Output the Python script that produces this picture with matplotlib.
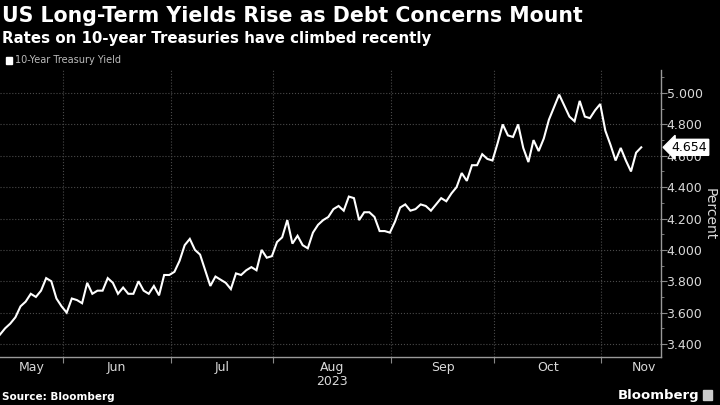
import numpy as np
import pandas as pd
import matplotlib
matplotlib.use("Agg")
import matplotlib.pyplot as plt
import matplotlib.transforms as mtransforms
from matplotlib.ticker import MultipleLocator, FixedLocator, NullFormatter, FixedFormatter
from matplotlib.patches import Rectangle

# 10-year treasury yield, trading days 12 May - 10 Nov 2023
holidays = ['2023-05-29', '2023-06-19', '2023-07-04', '2023-09-04', '2023-10-09']
may = [3.46, 3.50, 3.53, 3.57, 3.64, 3.67, 3.72, 3.70, 3.74, 3.82, 3.80, 3.69, 3.64]
jun = [3.60, 3.69, 3.68, 3.66, 3.79, 3.72, 3.74, 3.74, 3.82, 3.79, 3.72, 3.76, 3.72,
       3.72, 3.80, 3.74, 3.72, 3.77, 3.71, 3.84, 3.84]
jul = [3.86, 3.93, 4.03, 4.07, 4.00, 3.97, 3.87, 3.77, 3.83, 3.81, 3.79, 3.75, 3.85,
       3.84, 3.87, 3.89, 3.87, 4.00, 3.95, 3.96]
aug = [4.05, 4.08, 4.19, 4.04, 4.09, 4.03, 4.01, 4.11, 4.16, 4.19, 4.21, 4.26, 4.28,
       4.25, 4.34, 4.33, 4.19, 4.24, 4.24, 4.21, 4.12, 4.12, 4.11]
sep = [4.18, 4.27, 4.29, 4.25, 4.26, 4.29, 4.28, 4.25, 4.29, 4.33, 4.31, 4.36, 4.40,
       4.49, 4.44, 4.54, 4.54, 4.61, 4.58, 4.57]
oct_ = [4.68, 4.80, 4.73, 4.72, 4.80, 4.65, 4.56, 4.70, 4.63, 4.71, 4.83, 4.91, 4.99,
        4.92, 4.85, 4.82, 4.95, 4.85, 4.84, 4.89, 4.93]
nov = [4.76, 4.67, 4.57, 4.65, 4.57, 4.50, 4.62, 4.654]

yields = may + jun + jul + aug + sep + oct_ + nov
dates = pd.bdate_range('2023-05-12', '2023-11-10')
dates = dates[~dates.isin(pd.to_datetime(holidays))]
assert len(dates) == len(yields)

x = np.arange(len(yields))
xmax = 128.85

GRID = '#4a4a4a'
TXT = '#d9d9d9'

fig = plt.figure(figsize=(7.2, 4.05), dpi=100, facecolor='black')
ax = fig.add_axes([0, 1 - 357 / 405, 661 / 720, (357 - 70) / 405])
ax.set_facecolor('black')

ax.plot(x, yields, color='white', lw=1.5, solid_joinstyle='miter')

ax.set_xlim(0, xmax)
ax.set_ylim(3.317, 5.147)

# month boundaries and label centres
months = dates.month
starts = [i for i in range(1, len(dates)) if months[i] != months[i - 1]]
bounds = [s - 0.75 for s in starts]
edges = [0] + bounds
centres = [(edges[i] + edges[i + 1]) / 2 for i in range(len(edges) - 1)] + [x[-1] + 0.5]
mlabels = [dates[0].strftime('%b')] + [dates[s].strftime('%b') for s in starts]

ax.xaxis.set_major_locator(FixedLocator(bounds))
ax.xaxis.set_major_formatter(NullFormatter())
ax.xaxis.set_minor_locator(FixedLocator(centres))
ax.xaxis.set_minor_formatter(FixedFormatter(mlabels))
ax.tick_params(axis='x', which='major', length=4, color='#888888', direction='out')
ax.tick_params(axis='x', which='minor', length=0, pad=3, labelsize=9, labelcolor=TXT)

ax.yaxis.tick_right()
ax.yaxis.set_major_locator(MultipleLocator(0.2))
ax.yaxis.set_minor_locator(MultipleLocator(0.1))
ax.yaxis.set_major_formatter(lambda v, p: f'{v:.3f}')
ax.tick_params(axis='y', which='major', length=4, color='#888888', labelsize=9,
               labelcolor=TXT, pad=0)
ax.tick_params(axis='y', which='minor', length=2, color='#888888')

ax.grid(True, which='major', color=GRID, ls=':', lw=0.8)
for s in ['top', 'left']:
    ax.spines[s].set_visible(False)
for s in ['bottom', 'right']:
    ax.spines[s].set_color('#999999')
    ax.spines[s].set_linewidth(1)

# year under Aug
aug_i = mlabels.index('Aug')
ax.text(centres[aug_i], -0.084, '2023',
        transform=mtransforms.blended_transform_factory(ax.transData, ax.transAxes),
        ha='center', va='center', color=TXT, fontsize=9)

# last value tag
trans = mtransforms.blended_transform_factory(ax.transAxes, ax.transData)
ax.text(1.016, yields[-1], f'{yields[-1]:.3f}', transform=trans, ha='left', va='center',
        fontsize=9, color='black', clip_on=False, zorder=5,
        bbox=dict(boxstyle='larrow,pad=0.12', fc='white', ec='white'))

fig.text(0.985, 1 - 214 / 405, 'Percent', rotation=270, ha='center', va='center',
         color=TXT, fontsize=10)

# titles
fig.text(0.003, 1 - 16 / 405, 'US Long-Term Yields Rise as Debt Concerns Mount',
         color='white', fontsize=14.8, fontweight='bold', va='center', ha='left')
fig.text(0.003, 1 - 38 / 405, 'Rates on 10-year Treasuries have climbed recently',
         color='white', fontsize=10.8, fontweight='bold', va='center', ha='left')
fig.patches.append(Rectangle((6 / 720, 1 - 64 / 405), 6 / 720, 7 / 405, color='white',
                             transform=fig.transFigure, figure=fig))
fig.text(15 / 720, 1 - 60 / 405, '10-Year Treasury Yield', color='#bbbbbb',
         fontsize=7, va='center', ha='left')

fig.text(0.003, 1 - 397 / 405, 'Source: Bloomberg', color='white', fontsize=7.5,
         fontweight='bold', va='center', ha='left')
fig.text(699 / 720, 1 - 395 / 405, 'Bloomberg', color='white', fontsize=9.5,
         fontweight='bold', va='center', ha='right')
fig.patches.append(Rectangle((703 / 720, 1 - 400 / 405), 9 / 720, 10 / 405, color='#cccccc',
                             transform=fig.transFigure, figure=fig))

fig.savefig('out.png', dpi=100, facecolor='black')
